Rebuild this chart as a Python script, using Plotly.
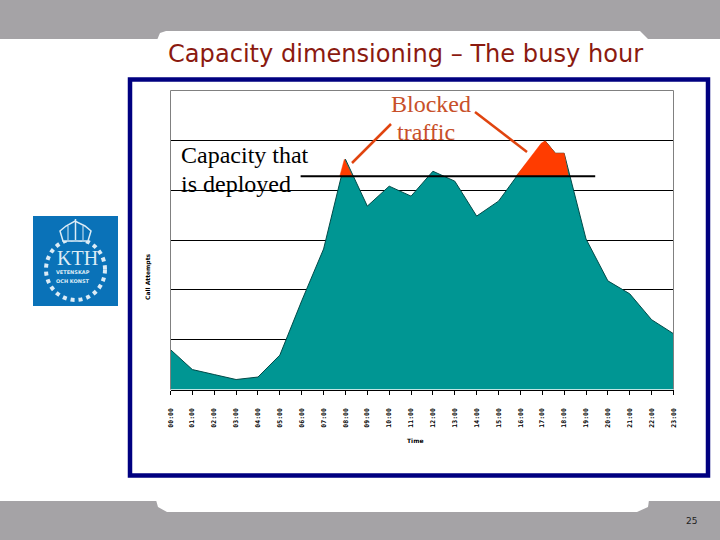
import plotly.graph_objects as go

tick_hours = [0, 1, 2, 3, 4, 5, 6, 7, 8, 9, 10, 11, 12, 13, 14, 15, 16, 17, 18, 19, 20, 21, 22, 23]
hour_labels = ["%02d:00" % h for h in tick_hours]

traffic_hours = [0, 1, 2, 3, 4, 5, 6, 7, 8, 9, 10, 11, 12, 13, 14, 15, 16, 17.13, 17.6, 18, 19, 20, 21, 22, 23]
call_attempts = [40, 20, 15, 10, 12.5, 34.5, 89, 141, 231, 184, 204, 194, 219, 209, 174, 189, 219, 249.5, 237, 237, 151, 109, 96, 70, 56]

capacity_hours = [5.95, 19.42]
capacity_level = [214, 214]

blocked_a_hours = [7.74, 7.95, 8.32]
blocked_a_values = [214, 231, 214]
blocked_b_hours = [15.8, 16.95, 17.13, 17.6, 18.0, 18.2]
blocked_b_values = [214, 247, 249.5, 237, 237, 214]

GREY = "#a5a3a6"
NAVY = "#000080"
TEAL = "#009693"
RED = "#ff3c00"
LOGO = "#0a72b8"
PALE = "#dcecf6"


# slide pixels -> paper coords
def px(x):
    return x / 720


def py(y):
    return 1 - y / 540


def rect(x0, y0, x1, y1, color):
    return dict(type="rect", xref="paper", yref="paper", x0=px(x0), x1=px(x1), y0=py(y0), y1=py(y1),
                fillcolor=color, line_width=0, layer="below")


def seg(x0, y0, x1, y1, color, width):
    return dict(type="line", xref="paper", yref="paper", x0=px(x0), x1=px(x1), y0=py(y0), y1=py(y1),
                line=dict(color=color, width=width))


def poly(points, fill, line_color=None, width=0, layer="above"):
    path = "M " + " L ".join("%f,%f" % (px(x), py(y)) for x, y in points) + " Z"
    return dict(type="path", xref="paper", yref="paper", path=path, fillcolor=fill, layer=layer,
                line=dict(color=line_color or fill, width=width))


def label(x, y, text, size, color, family, anchor="left", angle=0):
    return dict(x=px(x), y=py(y), xref="paper", yref="paper", text=text, showarrow=False, textangle=angle,
                xanchor=anchor, yanchor="middle", align="left",
                font=dict(size=size, color=color, family=family))


fig = go.Figure()
fig.add_trace(go.Scatter(x=traffic_hours, y=call_attempts, mode="lines", fill="tozeroy", fillcolor=TEAL,
                         line=dict(color="#004a48", width=1)))
fig.add_trace(go.Scatter(x=blocked_a_hours, y=blocked_a_values, mode="lines", fill="toself", fillcolor=RED,
                         line=dict(color=RED, width=0.5)))
fig.add_trace(go.Scatter(x=blocked_b_hours, y=blocked_b_values, mode="lines", fill="toself", fillcolor=RED,
                         line=dict(color=RED, width=0.5)))
fig.add_trace(go.Scatter(x=capacity_hours, y=capacity_level, mode="lines", line=dict(color="black", width=2)))

shapes = [
    # grey bands
    rect(0, 0, 720, 39, GREY),
    rect(0, 501, 720, 540, GREY),
    # white tabs cut out of the bands
    poly([(157, 40), (160, 33), (166, 31), (640, 31), (648, 39), (648, 40)], "white", layer="below"),
    poly([(156, 500), (158, 507), (167, 512), (637, 512), (648, 507), (649, 500)], "white", layer="below"),
    # navy frame
    dict(type="rect", xref="paper", yref="paper", x0=px(130), x1=px(708), y0=py(79.5), y1=py(475.5),
         line=dict(color=NAVY, width=4.5), layer="below"),
    # logo
    rect(33, 216, 118, 306, LOGO),
    dict(type="circle", xref="paper", yref="paper", x0=px(46), x1=px(105), y0=py(239), y1=py(300),
         line=dict(color=PALE, width=4, dash="dot")),
    poly([(63, 241), (60, 231), (66, 226), (75, 221), (85, 226), (91, 231), (88, 241)], LOGO, PALE, 1.5),
    seg(75.5, 219, 75.5, 240, PALE, 1.5),
    seg(68, 226, 68, 240, PALE, 1),
    seg(83, 226, 83, 240, PALE, 1),
    # plot border
    seg(170.5, 90.5, 673.5, 90.5, "#808080", 1),
    seg(170.5, 90.5, 170.5, 389.5, "#808080", 1),
    seg(673.5, 90.5, 673.5, 389.5, "#808080", 1),
    # pointers to the blocked traffic
    seg(391, 124, 352, 163, "#e0440f", 2.5),
    seg(475, 112, 527, 152, "#e0440f", 2.5),
]

annotations = [
    label(166, 54, "Capacity dimensioning – The busy hour", 24.1, "#8b1a10", "DejaVu Sans"),
    label(179, 155, "Capacity that", 24, "black", "Liberation Serif"),
    label(179, 184, "is deployed", 24, "black", "Liberation Serif"),
    label(389, 104, "Blocked", 24, "#c8502a", "Liberation Serif"),
    label(395, 132, "traffic", 24, "#c8502a", "Liberation Serif"),
    label(415, 440, "<b>Time</b>", 6, "black", "DejaVu Sans", anchor="center"),
    label(148, 277, "<b>Call Attempts</b>", 6, "black", "DejaVu Sans", anchor="center", angle=-90),
    label(691, 521, "25", 9, "#222222", "DejaVu Sans", anchor="center"),
    label(77, 258, "KTH", 20, PALE, "Liberation Serif", anchor="center"),
    label(73, 272, "<b>VETENSKAP</b>", 5, PALE, "DejaVu Sans", anchor="center"),
    label(73, 281, "<b>OCH KONST</b>", 5, PALE, "DejaVu Sans", anchor="center"),
]

fig.update_layout(
    autosize=False,
    width=720,
    height=540,
    margin=dict(l=0, r=0, t=0, b=0, pad=0, autoexpand=False),
    paper_bgcolor="white",
    plot_bgcolor="white",
    showlegend=False,
    shapes=shapes,
    annotations=annotations,
)
fig.update_xaxes(
    domain=[px(170.5), px(673.5)],
    range=[0, 23],
    tickvals=tick_hours,
    ticktext=hour_labels,
    tickangle=-90,
    ticks="outside",
    ticklen=4,
    tickcolor="black",
    ticklabelstandoff=11,
    tickfont=dict(size=6.5, color="black", family="DejaVu Sans Mono", weight="bold"),
    showgrid=False,
    showline=True,
    linecolor="black",
    zeroline=False,
    automargin=False,
)
fig.update_yaxes(
    domain=[py(389.5), py(90.5)],
    range=[0, 300],
    dtick=50,
    showticklabels=False,
    showgrid=True,
    gridcolor="black",
    gridwidth=1,
    zeroline=False,
    automargin=False,
)

# the page's default body margin would push the slide off the window
fig.write_html("out.html", config=dict(displayModeBar=False), post_script="document.body.style.margin='0';")
